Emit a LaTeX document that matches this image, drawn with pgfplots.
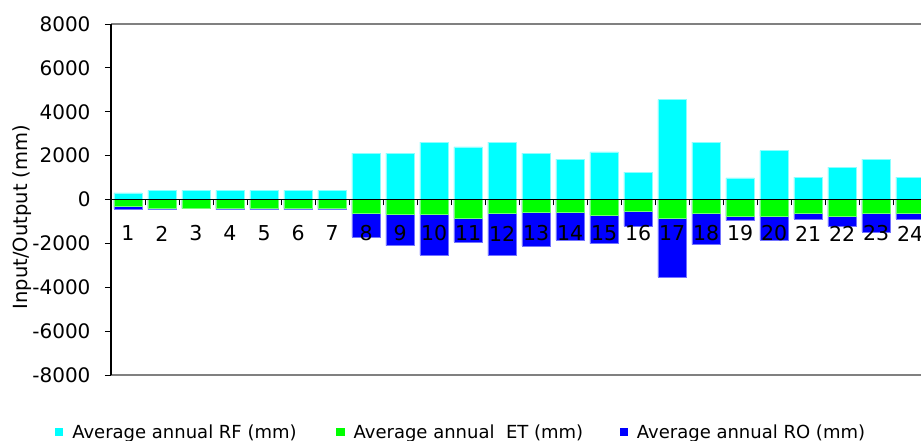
\documentclass[border=0pt]{standalone}
\usepackage{pgfplots}
\pgfplotsset{compat=1.18}
\usepackage{pgfplotstable}
\usepackage{fontspec}
\setmainfont{DejaVu Sans}
\definecolor{rfc}{RGB}{0,255,255}
\definecolor{etc}{RGB}{0,255,0}
\definecolor{roc}{RGB}{0,0,255}
\definecolor{framegray}{RGB}{128,128,128}

\pgfplotstableread{
cat RF ET RO
1 300 -320 -105
2 420 -380 -76
3 420 -410 -10
4 420 -380 -76
5 420 -380 -76
6 420 -380 -76
7 420 -380 -76
8 2110 -640 -1080
9 2110 -670 -1430
10 2620 -670 -1870
11 2400 -850 -1095
12 2620 -640 -1915
13 2110 -580 -1535
14 1840 -580 -1260
15 2170 -700 -1307
16 1250 -520 -697
17 4550 -850 -2690
18 2620 -640 -1414
19 980 -745 -213
20 2230 -745 -1095
21 1020 -640 -260
22 1480 -745 -472
23 1840 -640 -840
24 1020 -640 -260
}\data

\begin{document}
\begin{tikzpicture}
\begin{axis}[
  name=main,
  scale only axis, width=810bp, height=351bp,
  at={(0,0)}, anchor=south west,
  xmin=0.5, xmax=24.32, ymin=-8000, ymax=8000,
  axis x line=middle, axis y line=left,
  x axis line style={-, black, line width=0.8bp},
  y axis line style={-, black, line width=1bp},
  clip mode=individual,
  axis on top=true,
  major tick length=6bp,
  xtick={1.5,2.5,...,23.5}, xticklabels={},
  xtick align=center,
  xtick style={black, yshift=-3bp, line width=0.8bp},
  ytick={-8000,-6000,...,8000},
  ytick align=outside,
  ytick style={black, line width=0.8bp},
  scaled y ticks=false,
  /pgf/number format/assume math mode=true,
  /pgf/number format/1000 sep={},
  yticklabel style={font=\fontsize{20bp}{24bp}\selectfont, anchor=east, xshift=-11bp},
  extra x ticks={1,2,...,24},
  extra x tick labels={1,2,3,4,5,6,7,8,9,10,11,12,13,14,15,16,17,18,19,20,21,22,23,24},
  extra x tick style={tick style={draw=none}, tick label style={anchor=center, yshift=-31bp, font=\fontsize{20.5bp}{24bp}\selectfont}},
  ylabel={Input/Output (mm)},
  every axis y label/.style={at={(axis description cs:-0.1099,0.45)}, rotate=90, anchor=center, font=\fontsize{19.5bp}{23bp}\selectfont},
  legend columns=3,
  legend style={at={(axis description cs:-0.0691,-0.1624)}, anchor=west, draw=none, fill=none, inner sep=0pt, outer sep=0pt,
    font=\fontsize{18bp}{22bp}\selectfont,
    /tikz/every odd column/.append style={column sep=9bp},
    nodes={inner sep=0pt}},
  legend image code/.code={\path[#1,draw=none] (0bp,-4.15bp) rectangle (8.3bp,4.15bp);},
  bar width=0.835,
]
\addlegendimage{fill=rfc}
\addlegendentry{\makebox[264bp][l]{Average annual RF (mm)}}
\addlegendimage{fill=etc}
\addlegendentry{\makebox[266bp][l]{Average annual\ \ ET (mm)}}
\addlegendimage{fill=roc}
\addlegendentry{Average annual RO (mm)}

\addplot[ybar, bar shift=0pt, fill=roc, draw=roc!55!white, line width=0.6bp, forget plot]
  table[x=cat, y expr=\thisrow{ET}+\thisrow{RO}] {\data};
\addplot[ybar, bar shift=0pt, fill=etc, draw=etc!55!white, line width=0.6bp, forget plot]
  table[x=cat, y=ET] {\data};
\addplot[ybar, bar shift=0pt, fill=rfc, draw=rfc!45!white, line width=0.6bp, forget plot]
  table[x=cat, y=RF] {\data};
\end{axis}
\fill[framegray] (0bp,349.8bp) rectangle (810bp,352.2bp);
\fill[framegray] (0bp,-1.2bp) rectangle (810bp,1.2bp);
\draw[color=black, line width=1bp] (0bp,0bp) -- (0bp,351bp);
\pgfresetboundingbox
\path (-111bp,-66bp) rectangle (810bp,375bp);
\end{tikzpicture}
\end{document}
